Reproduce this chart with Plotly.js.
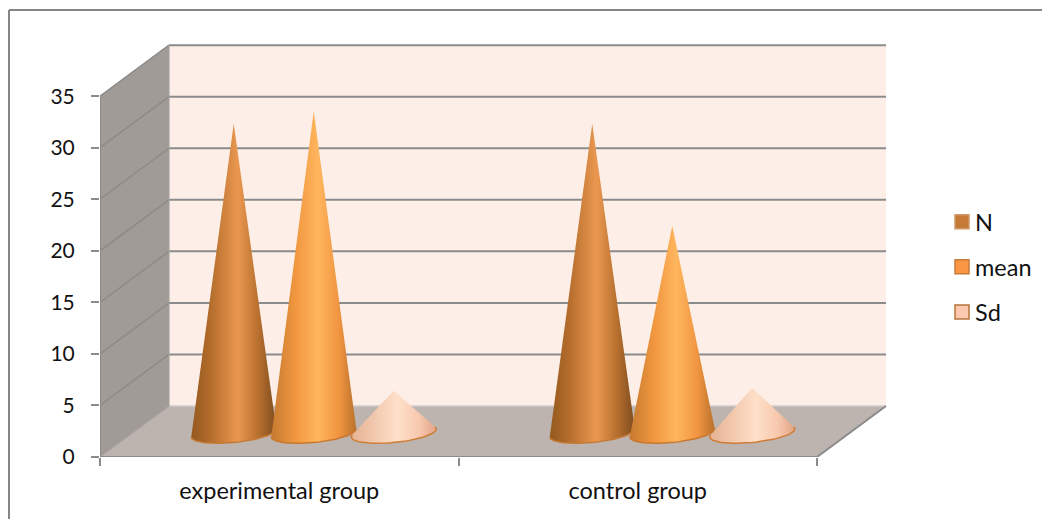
<!DOCTYPE html>
<html>
<head>
<meta charset="utf-8">
<script src="https://cdn.plot.ly/plotly-3.0.1.min.js"></script>
<style>html,body{margin:0;padding:0;background:#fff;overflow:hidden}</style>
</head>
<body>
<div id="chart" style="width:1042px;height:519px"></div>
<script>
const categories = ["experimental group", "control group"];
const seriesNames = ["N", "mean", "Sd"];
const valuesN = [30, 30];
const valuesMean = [31.2, 20.1];
const valuesSd = [4.1, 4.4];
const yTicks = [0, 5, 10, 15, 20, 25, 30, 35];

const W = 1042, H = 519;
const M = {l: 100, r: 152, t: 40, b: 62};
const pxX = 358.5, pxY = 10.31;
const xMax = (W - M.l - M.r) / pxX, yMaxR = (H - M.t - M.b) / pxY;
const depthX = 69 / pxX, depthY = 51 / pxY;
const yTop = yTicks[yTicks.length - 1], nCat = categories.length;
const P = (x, v, d) => [x + d * depthX, v + d * depthY];

function poly(pts, color) {
  return {type: "scatter", mode: "none", x: pts.map(p => p[0]), y: pts.map(p => p[1]),
    fill: "toself", fillcolor: color, showlegend: false, hoverinfo: "skip"};
}
function lines(segs, color, width) {
  const x = [], y = [];
  segs.forEach(s => { s.forEach(p => { x.push(p[0]); y.push(p[1]); }); x.push(null); y.push(null); });
  return {type: "scatter", mode: "lines", x, y, line: {color, width}, showlegend: false, hoverinfo: "skip"};
}

const traces = [];
traces.push(poly([P(0,0,0), P(0,0,1), P(0,yTop,1), P(0,yTop,0)], "#a19b97"));
traces.push(poly([P(0,0,1), P(nCat,0,1), P(nCat,yTop,1), P(0,yTop,1)], "#fdefe8"));
traces.push(poly([P(0,0,0), P(nCat,0,0), P(nCat,0,1), P(0,0,1)], "#bdb3af"));

const gridTicks = yTicks.filter(v => v > 0);
traces.push(lines(gridTicks.map(v => [P(0,v,1), P(nCat,v,1)]), "#8b8b8b", 2));
traces.push(lines(gridTicks.map(v => [P(0,v,0), P(0,v,1)]), "#8b8b8b", 1.5));
traces.push(lines([[P(0,0,1), P(nCat,0,1)]], "#d0ccca", 1.5));
traces.push(lines([[P(0,0,0), P(0,0,1)], [P(0,yTop,1), P(0,0,1)]], "#a6a2a0", 1.2));
traces.push(lines([[P(0,0,0), P(nCat,0,0)], [P(nCat,0,0), P(nCat,0,1)], [P(0,0,0), P(0,yTop,0)]], "#8b8b8b", 2));

const coneStyles = [
  {values: valuesN, edge: "#c47a34", scale: [[0,"#94591f"],[0.2,"#b06a2a"],[0.55,"#ea9850"],[0.8,"#b56e2d"],[1,"#7d4c20"]]},
  {values: valuesMean, edge: "#c9772c", scale: [[0,"#c57a30"],[0.28,"#f0963f"],[0.55,"#ffb65e"],[0.8,"#f09440"],[1,"#b9722b"]]},
  {values: valuesSd, edge: "#cf7c36", scale: [[0,"#e6b193"],[0.55,"#fee0c9"],[0.8,"#f7c8ae"],[1,"#e2a486"]]}
];
const slot = 80 / pxX, halfW = 42.5 / pxX, halfH = 9.5 / pxY, tilt = 4 / pxY, baseDrop = 1.5 / pxY;

coneStyles.forEach((s, si) => {
  s.values.forEach((v, ci) => {
    const cx = ci + 0.5 + (si - 1) * slot;
    const c = P(cx, 0, 0.5);
    c[1] -= baseDrop;
    const t0 = Math.asin(Math.min(0.95, halfH / v));
    const arc = [];
    const steps = 48;
    for (let i = 0; i <= steps; i++) {
      const t = (Math.PI - t0) + (Math.PI + 2 * t0) * i / steps;
      arc.push([c[0] + halfW * Math.cos(t), c[1] + tilt * Math.cos(t) + halfH * Math.sin(t)]);
    }
    const apex = [c[0], c[1] + v];
    const pts = [apex].concat(arc, [apex]);
    traces.push({type: "scatter", mode: "none", x: pts.map(p => p[0]), y: pts.map(p => p[1]),
      fill: "toself", fillgradient: {type: "horizontal", colorscale: s.scale},
      showlegend: false, hoverinfo: "skip"});
    traces.push(lines([arc], s.edge, 1.5));
  });
});

const legendColors = [["#c67a38","#d09a68"], ["#fb9744","#c87a38"], ["#fcc8ae","#b9743c"]];
seriesNames.forEach((name, i) => {
  traces.push({type: "scatter", mode: "markers", name, x: [null], y: [null], legendgroup: name,
    marker: {symbol: "square", size: 14, color: legendColors[i][0], line: {color: legendColors[i][1], width: 1.5}},
    hoverinfo: "skip"});
});

const plotW = W - M.l - M.r, plotH = H - M.t - M.b;
const frameX = (9 - M.l) / plotW, frameTop = (H - M.b - 10) / plotH;
const layout = {
  width: W, height: H, margin: M, paper_bgcolor: "#fff", plot_bgcolor: "#fff",
  font: {family: "Lato, 'Open Sans', sans-serif", size: 23.5, color: "#111"},
  showlegend: true,
  legend: {x: 935 / W, xref: "container", xanchor: "left",
    y: 1 - 200 / H, yref: "container", yanchor: "top",
    bgcolor: "rgba(0,0,0,0)", tracegroupgap: 11.5, entrywidth: 40, entrywidthmode: "pixels",
    font: {size: 23.5, color: "#111"}, itemclick: false, itemdoubleclick: false},
  xaxis: {range: [0, xMax], showgrid: false, zeroline: false, showline: false,
    tickmode: "array", tickvals: categories.map((c, i) => i + 0.5), ticktext: categories,
    ticks: "", ticklabelstandoff: 17, tickfont: {size: 23.5, color: "#111"},
    minor: {tickmode: "array", tickvals: [0, 1, 2], ticks: "outside", ticklen: 8, tickwidth: 1.5, tickcolor: "#8b8b8b", showgrid: false}},
  yaxis: {range: [0, yMaxR], showgrid: false, zeroline: false, showline: false,
    tickmode: "array", tickvals: yTicks, ticks: "outside", ticklen: 8, tickwidth: 1.5, tickcolor: "#8b8b8b",
    ticklabelstandoff: 12, tickfont: {size: 21, color: "#111"}},
  shapes: [
    {type: "line", xref: "paper", yref: "paper", x0: frameX, x1: frameX, y0: -1, y1: frameTop, line: {color: "#868686", width: 2}},
    {type: "line", xref: "paper", yref: "paper", x0: frameX, x1: 2, y0: frameTop, y1: frameTop, line: {color: "#868686", width: 2}}
  ]
};

Plotly.newPlot("chart", traces, layout, {displayModeBar: false}).then(gd => {
  gd.querySelectorAll(".legend .legendsymbols").forEach(g => g.setAttribute("transform", "translate(7,0)"));
});
</script>
</body>
</html>
